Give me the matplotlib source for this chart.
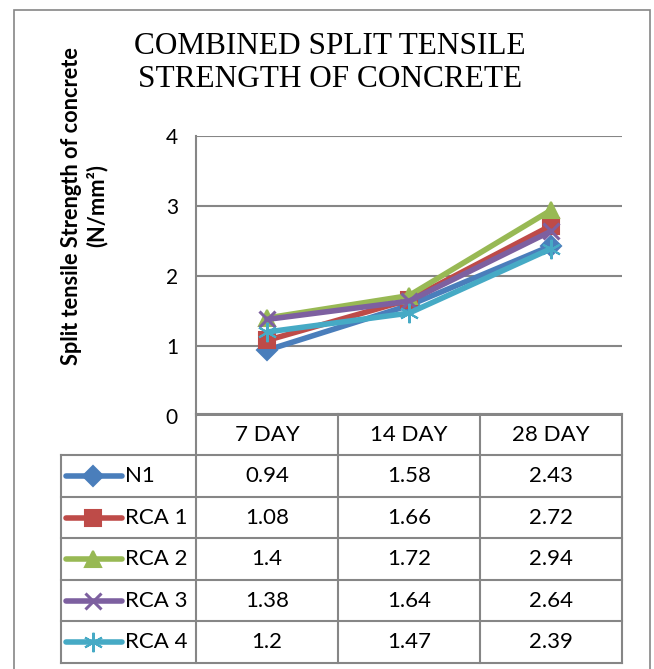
import numpy as np
import matplotlib
matplotlib.use("Agg")
import matplotlib.pyplot as plt
from matplotlib.patches import Rectangle

days = ["7 DAY", "14 DAY", "28 DAY"]
names = ["N1", "RCA 1", "RCA 2", "RCA 3", "RCA 4"]
n1 = [0.94, 1.58, 2.43]
rca1 = [1.08, 1.66, 2.72]
rca2 = [1.4, 1.72, 2.94]
rca3 = [1.38, 1.64, 2.64]
rca4 = [1.2, 1.47, 2.39]
series = [n1, rca1, rca2, rca3, rca4]

colors = ["#4A7EBB", "#BE4B48", "#98B954", "#7D60A0", "#46AAC5"]
markers = ["D", "s", "^", "x", (6, 2, 0)]
msizes = [10, 11, 12, 12, 14]

W, H = 654, 669
fig = plt.figure(figsize=(W / 100, H / 100), dpi=100)

def box(l, t, r, b):
    return [l / W, 1 - b / H, (r - l) / W, (b - t) / H]

grid_c = "#868686"
font = ["Lato", "DejaVu Sans"]

# outer frame
fig.patches.append(Rectangle((14 / W, -0.05), (650 - 14) / W, 1 - 10 / H + 0.05,
                             transform=fig.transFigure, fill=False,
                             edgecolor=grid_c, lw=1.2))

fig.text(330 / W, 1 - 63 / H, "COMBINED SPLIT TENSILE\nSTRENGTH OF CONCRETE",
         ha="center", va="center", family=["Liberation Serif"], fontsize=22.5,
         linespacing=1.15)

fig.text(84 / W, 1 - 206 / H, "Split tensile Strength of concrete\n(N/mm²)",
         rotation=90, ha="center", va="center", family=font,
         fontweight="bold", fontsize=15.7, linespacing=1.2)

ax = fig.add_axes(box(196, 136, 622, 416))
x = np.arange(len(days))
for s, c, m, ms in zip(series, colors, markers, msizes):
    ax.plot(x, s, color=c, lw=4, marker=m, ms=ms, mew=2.2 if m == "x" else 1.5,
            mec=c, mfc=c, zorder=3, solid_capstyle="round")
ax.set_xlim(-0.5, 2.5)
ax.set_ylim(0, 4)
ax.set_yticks([0, 1, 2, 3, 4])
ax.yaxis.grid(True, color=grid_c, lw=1.5)
ax.set_axisbelow(True)
for sp in ["top", "right", "bottom"]:
    ax.spines[sp].set_visible(False)
ax.spines["left"].set_color(grid_c)
ax.spines["left"].set_linewidth(1.5)
ax.set_xticks([])
ax.tick_params(axis="y", length=0, pad=13, labelsize=15)
for lab in ax.get_yticklabels():
    lab.set_family(font)
ax.patch.set_alpha(0)

# data table
tx = fig.add_axes(box(61, 414, 622, 663))
tx.set_xlim(61, 622)
tx.set_ylim(663, 414)
tx.axis("off")
col_edges = [61, 196, 338, 480, 622]
row_h = (663 - 414) / (len(names) + 1)
row_edges = [414 + i * row_h for i in range(len(names) + 2)]
lk = dict(color=grid_c, lw=1.5, clip_on=False)
tx.plot([196, 622], [row_edges[0], row_edges[0]], **lk)
for yy in row_edges[1:]:
    tx.plot([61, 622], [yy, yy], **lk)
for xx in col_edges[1:]:
    tx.plot([xx, xx], [row_edges[0], row_edges[-1]], **lk)
tx.plot([61, 61], [row_edges[1], row_edges[-1]], **lk)

for j, d in enumerate(days):
    cx = (col_edges[j + 1] + col_edges[j + 2]) / 2
    tx.text(cx, (row_edges[0] + row_edges[1]) / 2, d, ha="center", va="center",
            family=font, fontsize=16)
for i, (nm, s, c, m, ms) in enumerate(zip(names, series, colors, markers, msizes)):
    cy = (row_edges[i + 1] + row_edges[i + 2]) / 2
    tx.plot([66, 122], [cy, cy], color=c, lw=4, solid_capstyle="round")
    tx.plot([93], [cy], marker=m, ms=ms, color=c, mec=c, mew=2.2 if m == "x" else 1.5)
    tx.text(125, cy, nm, ha="left", va="center", family=font, fontsize=16)
    for j, v in enumerate(s):
        cx = (col_edges[j + 1] + col_edges[j + 2]) / 2
        tx.text(cx, cy, str(v), ha="center", va="center", family=font, fontsize=16)

fig.savefig("out.png", dpi=100)
